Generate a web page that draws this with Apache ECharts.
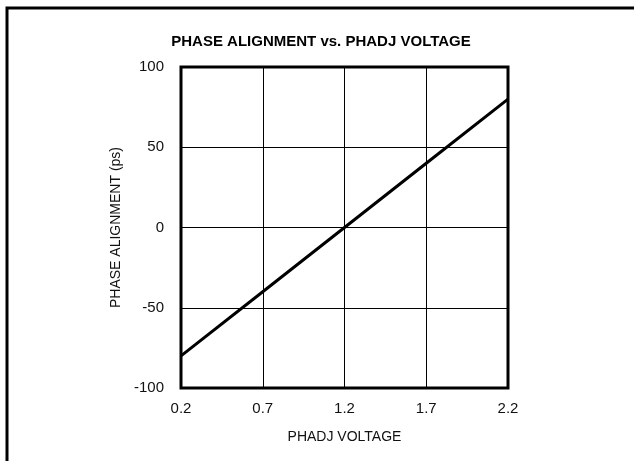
<!DOCTYPE html>
<html>
<head>
<meta charset="utf-8">
<script src="https://cdn.jsdelivr.net/npm/echarts@6/dist/echarts.min.js"></script>
<style>
  html, body { margin: 0; padding: 0; background: #fff; }
  #chart { width: 634px; height: 461px; }
</style>
</head>
<body>
<div id="chart"></div>
<script>
// PHADJ voltage (V) and phase alignment (ps)
var volts = [0.2, 0.7, 1.2, 1.7, 2.2];
var phase = [-80, -40, 0, 40, 80];

var font = "'Liberation Sans', Arial, sans-serif";

var chartDom = document.getElementById('chart');
var myChart = echarts.init(chartDom);

var option = {
    backgroundColor: '#fff',
    animation: false,
    title: {
        text: 'PHASE ALIGNMENT vs. PHADJ VOLTAGE',
        left: 316,
        textAlign: 'center',
        top: 29,
        textStyle: { fontFamily: font, fontWeight: 'bold', fontSize: 15, color: '#000' }
    },
    // frame around the figure (only top and left edges visible)
    graphic: [{
        type: 'rect',
        shape: { x: 7, y: 8, width: 700, height: 600 },
        style: { fill: 'none', stroke: '#000', lineWidth: 3 },
        silent: true
    }],
    grid: {
        left: 181, right: 126, top: 67, bottom: 73,
        show: true, borderColor: '#000', borderWidth: 3
    },
    xAxis: {
        type: 'value',
        min: 0.2, max: 2.2, interval: 0.5,
        name: 'PHADJ VOLTAGE',
        nameLocation: 'middle',
        nameGap: 42,
        nameTextStyle: { fontFamily: font, fontSize: 14, color: '#111' },
        axisLine: { show: false },
        axisTick: { show: false },
        axisLabel: {
            margin: 13,
            fontFamily: font, fontSize: 15, color: '#111',
            formatter: function (v) { return v.toFixed(1); }
        },
        splitLine: { lineStyle: { color: '#000', width: 1 } }
    },
    yAxis: {
        type: 'value',
        min: -100, max: 100, interval: 50,
        name: 'PHASE ALIGNMENT (ps)',
        nameLocation: 'middle',
        nameGap: 58,
        nameTextStyle: { fontFamily: font, fontSize: 14, color: '#111' },
        axisLine: { show: false },
        axisTick: { show: false },
        axisLabel: { margin: 17, fontFamily: font, fontSize: 15, color: '#111' },
        splitLine: { lineStyle: { color: '#000', width: 1 } }
    },
    series: [{
        type: 'line',
        data: volts.map(function (v, i) { return [v, phase[i]]; }),
        showSymbol: false,
        lineStyle: { color: '#000', width: 3 }
    }]
};

myChart.setOption(option);

window.addEventListener('resize', function() {
    myChart.resize();
});
</script>
</body>
</html>
